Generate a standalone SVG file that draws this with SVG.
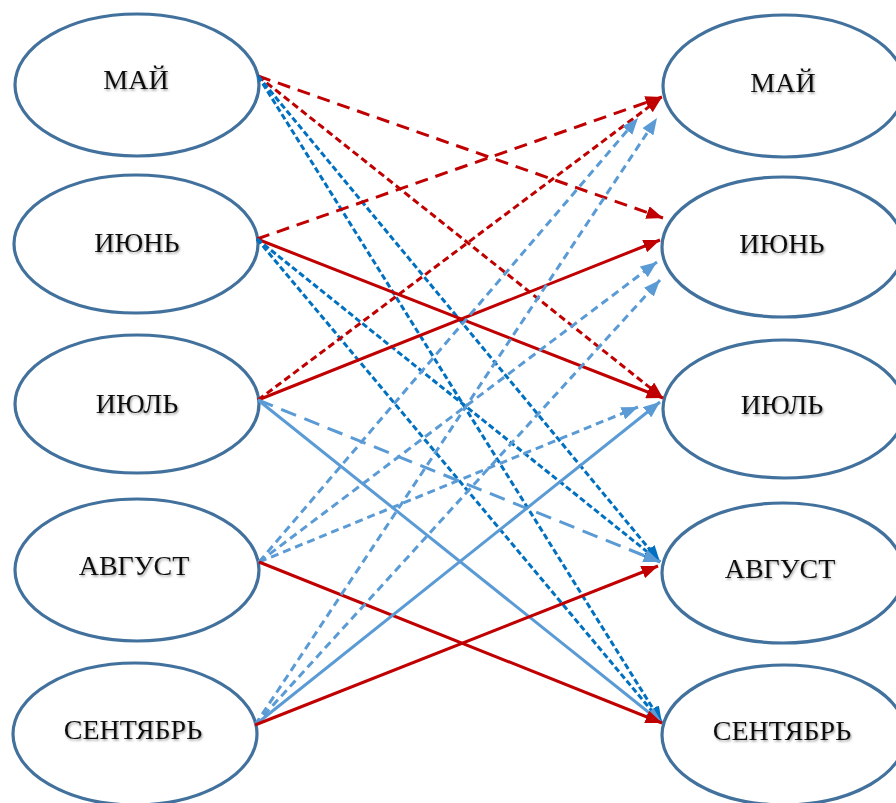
<svg xmlns="http://www.w3.org/2000/svg" width="896" height="803" viewBox="0 0 896 803">
<style>
.node ellipse{fill:#fff;stroke:#41719C;stroke-width:3.2}
.node text{font-family:"Liberation Serif","Times New Roman",serif;font-size:28px;fill:#111;text-anchor:middle;filter:url(#sh)}
.c{fill:none;stroke-width:3}
.r{stroke:#C00000;marker-end:url(#ar)}
.d{stroke:#0070C0;marker-end:url(#ad)}
.l{stroke:#5B9BD5;marker-end:url(#al)}
.rl{stroke-dasharray:13 8}
.rs{stroke-dasharray:7 4}
.ds{stroke-dasharray:6 3}
.ls{stroke-dasharray:8 5}
.ll{stroke-dasharray:16 9}
</style>
<defs>
<filter id="sh" x="-10%" y="-20%" width="130%" height="150%">
<feDropShadow dx="1" dy="1.5" stdDeviation="0.9" flood-color="#666" flood-opacity="0.65"/>
</filter>
<marker id="ar" viewBox="0 0 10 8" refX="10" refY="4" markerWidth="5.5" markerHeight="4.4" orient="auto"><path d="M0,0 L10,4 L0,8 z" fill="#C00000"/></marker>
<marker id="ad" viewBox="0 0 10 8" refX="10" refY="4" markerWidth="5.5" markerHeight="4.4" orient="auto"><path d="M0,0 L10,4 L0,8 z" fill="#0070C0"/></marker>
<marker id="al" viewBox="0 0 10 8" refX="10" refY="4" markerWidth="5.5" markerHeight="4.4" orient="auto"><path d="M0,0 L10,4 L0,8 z" fill="#5B9BD5"/></marker>
</defs>
<g id="left-may" class="node"><ellipse cx="137" cy="85" rx="122" ry="71"/><text x="136" y="89">МАЙ</text></g>
<g id="left-jun" class="node"><ellipse cx="136" cy="244" rx="122" ry="69"/><text x="137" y="252">ИЮНЬ</text></g>
<g id="left-jul" class="node"><ellipse cx="137" cy="404" rx="122" ry="69"/><text x="137" y="413">ИЮЛЬ</text></g>
<g id="left-aug" class="node"><ellipse cx="137" cy="570" rx="122" ry="71"/><text x="134" y="575">АВГУСТ</text></g>
<g id="left-sep" class="node"><ellipse cx="135" cy="734" rx="122" ry="71"/><text x="133" y="739">СЕНТЯБРЬ</text></g>
<g id="right-may" class="node"><ellipse cx="784" cy="86" rx="121" ry="71"/><text x="783" y="92">МАЙ</text></g>
<g id="right-jun" class="node"><ellipse cx="783" cy="247" rx="121" ry="70"/><text x="782" y="253">ИЮНЬ</text></g>
<g id="right-jul" class="node"><ellipse cx="784" cy="409" rx="121" ry="69"/><text x="782" y="414">ИЮЛЬ</text></g>
<g id="right-aug" class="node"><ellipse cx="783" cy="573" rx="121" ry="70"/><text x="780" y="578">АВГУСТ</text></g>
<g id="right-sep" class="node"><ellipse cx="784" cy="735" rx="122" ry="70"/><text x="782" y="740">СЕНТЯБРЬ</text></g>
<g id="connectors">
<line class="c r rl" x1="258" y1="76" x2="663" y2="218"/>
<line class="c r rs" x1="258" y1="76" x2="663" y2="398"/>
<line class="c d ds" x1="258" y1="76" x2="660" y2="562"/>
<line class="c d ds" x1="258" y1="76" x2="662" y2="723"/>
<line class="c r rl" x1="257" y1="239" x2="662" y2="97"/>
<line class="c r" x1="257" y1="239" x2="663" y2="398"/>
<line class="c d ds" x1="257" y1="239" x2="660" y2="562"/>
<line class="c d ds" x1="257" y1="239" x2="662" y2="723"/>
<line class="c r rs" x1="258" y1="400" x2="662" y2="97"/>
<line class="c r" x1="258" y1="400" x2="660" y2="240"/>
<line class="c l ll" x1="258" y1="400" x2="660" y2="562"/>
<line class="c l" x1="258" y1="400" x2="662" y2="723"/>
<line class="c l ls" x1="259" y1="562" x2="638" y2="118"/>
<line class="c l ls" x1="259" y1="562" x2="657" y2="262"/>
<line class="c l ls" x1="259" y1="562" x2="638" y2="407"/>
<line class="c r" x1="259" y1="562" x2="662" y2="723"/>
<line class="c l ls" x1="255" y1="725" x2="657" y2="118"/>
<line class="c l ls" x1="255" y1="725" x2="660" y2="280"/>
<line class="c l" x1="255" y1="725" x2="660" y2="402"/>
<line class="c r" x1="255" y1="725" x2="658" y2="566"/>
</g>
</svg>
